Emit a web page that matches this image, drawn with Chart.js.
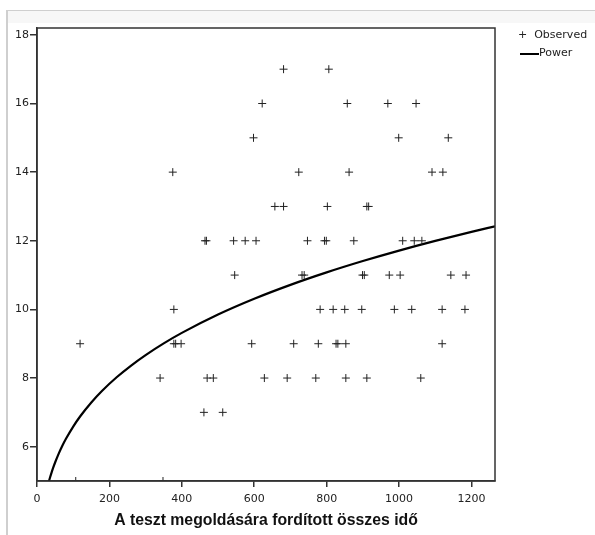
<!DOCTYPE html>
<html><head><meta charset="utf-8">
<script src="https://cdn.jsdelivr.net/npm/chart.js@4/dist/chart.umd.min.js"></script>
<style>
html,body{margin:0;padding:0;background:#fff;}
#wrap{position:relative;width:595px;height:535px;overflow:hidden;background:#fff;}
#band{position:absolute;left:8px;top:11px;width:587px;height:12px;background:#f7f7f7;}
#frameTop{position:absolute;left:7px;top:10px;width:588px;height:1px;background:#cfcfcf;}
#frameLeft{position:absolute;left:6px;top:10px;width:2px;height:525px;background:#cfcfcf;}
canvas{position:absolute;left:0;top:0;}
.lg{position:absolute;font:11px "DejaVu Sans",sans-serif;color:#222;white-space:nowrap;}
.lgline{position:absolute;height:2px;background:#000;}
</style>
</head><body>
<div id="wrap">
  <div id="band"></div><div id="frameTop"></div><div id="frameLeft"></div>
  <canvas id="c" width="595" height="535"></canvas>
  <div class="lg" style="left:518px;top:28px;">+&nbsp;&nbsp;Observed</div>
  <div class="lgline" style="left:520px;top:53px;width:19px;"></div>
  <div class="lg" style="left:539px;top:46px;">Power</div>
</div>
<script>
// Observed data (x = total time, y = score)
const observedX = [681,806, 622,857,969,1047, 598,999,1136, 375,723,862,1091,1121,
  657,681,802,911,916, 464,468,543,575,605,747,794,799,875,1010,1042,1063,
  546,732,738,899,904,973,1003,1143,1185, 378,782,818,850,897,987,1035,1119,1182,
  119,378,383,398,593,709,777,826,831,853,1119, 340,470,487,628,691,770,853,911,1060,
  461,513, 107,348];
const observedY = [17,17, 16,16,16,16, 15,15,15, 14,14,14,14,14,
  13,13,13,13,13, 12,12,12,12,12,12,12,12,12,12,12,12,
  11,11,11,11,11,11,11,11,11, 10,10,10,10,10,10,10,10,10,
  9,9,9,9,9,9,9,9,9,9,9, 8,8,8,8,8,8,8,8,8,
  7,7, 5,5];
// Power fit y = a * x^b
const powerA = 2.083;
const powerB = 0.25;
const powerX = [33,36,40,45,50,60,70,80,100,120,150,180,220,260,300,350,400,500,600,700,800,900,1000,1100,1200,1265];
const xTicks = [0,200,400,600,800,1000,1200];
const yTicks = [6,8,10,12,14,16,18];
const xTitle = 'A teszt megoldására fordított összes idő';

const observed = observedX.map((x,i)=>({x:x,y:observedY[i]}));
const power = powerX.map(x=>({x:x,y:powerA*Math.pow(x,powerB)}));

const frame = {id:'frame', afterDatasetsDraw(chart){
  const a=chart.chartArea, ctx=chart.ctx;
  ctx.save(); ctx.strokeStyle='#333'; ctx.lineWidth=1.5;
  ctx.strokeRect(a.left,a.top,a.right-a.left,a.bottom-a.top); ctx.restore();
}};

new Chart(document.getElementById('c'),{
  type:'scatter',
  data:{datasets:[
    {label:'Observed',data:observed,pointStyle:'cross',pointRadius:4,pointHoverRadius:4,
     borderColor:'#222',backgroundColor:'#222',pointBorderWidth:1,borderWidth:1,showLine:false,clip:0},
    {label:'Power',data:power,type:'line',borderColor:'#000',borderWidth:2.2,pointRadius:0,
     fill:false,cubicInterpolationMode:'monotone',clip:0}
  ]},
  options:{
    responsive:false,animation:false,devicePixelRatio:1,
    layout:{padding:{left:0,top:28,right:100,bottom:0}},
    plugins:{legend:{display:false},tooltip:{enabled:false}},
    scales:{
      x:{type:'linear',min:0,max:1265,
         afterBuildTicks(s){s.ticks=xTicks.map(v=>({value:v}));},
         afterFit(s){s.height=54;},
         grid:{display:true,drawOnChartArea:false,drawTicks:true,tickLength:6,color:'#333',lineWidth:1.5},
         border:{display:true,color:'#333',width:1.5},
         ticks:{font:{family:'DejaVu Sans',size:11},color:'#222',padding:6,maxRotation:0,autoSkip:false,
                callback:v=>String(v)},
         title:{display:true,text:xTitle,font:{family:'Liberation Sans',size:15.8,weight:'bold'},color:'#111',padding:{top:0,bottom:5}}},
      y:{type:'linear',min:5,max:18.2,
         afterBuildTicks(s){s.ticks=yTicks.map(v=>({value:v}));},
         afterFit(s){s.width=37;},
         grid:{display:true,drawOnChartArea:false,drawTicks:true,tickLength:7,color:'#333',lineWidth:1.5},
         border:{display:true,color:'#333',width:1.5},
         ticks:{font:{family:'DejaVu Sans',size:11},color:'#222',padding:1,callback:v=>String(v)}}
    }
  },
  plugins:[frame]
});
</script>
</body></html>
